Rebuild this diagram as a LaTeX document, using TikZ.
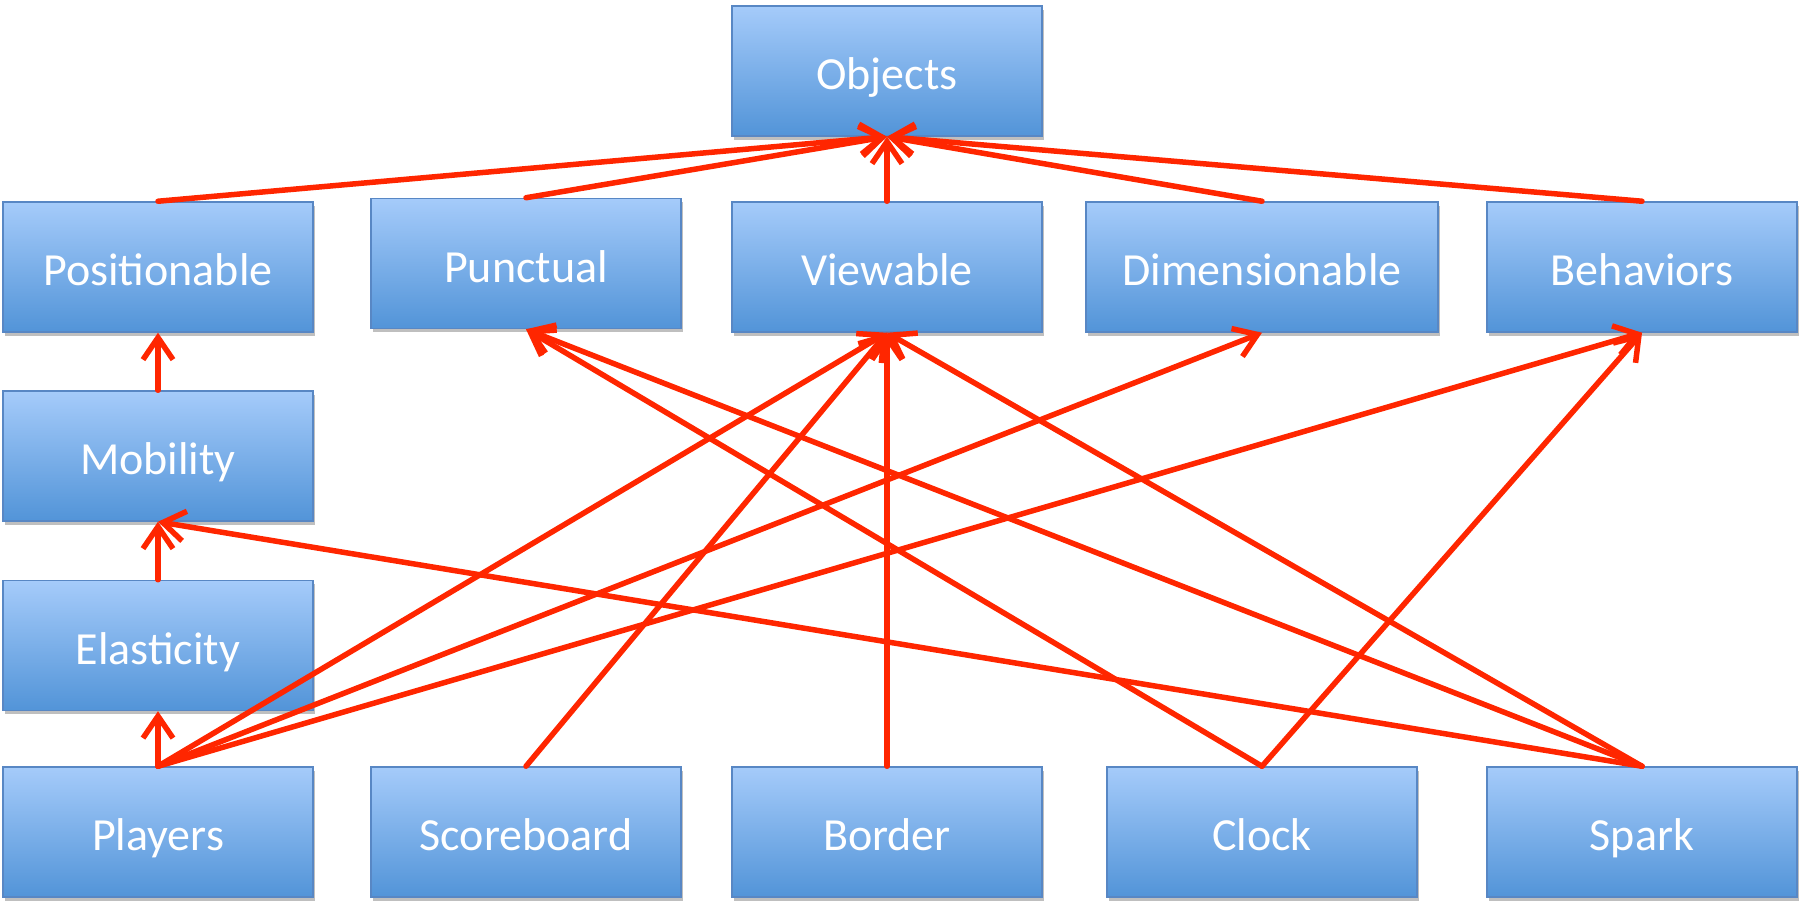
\documentclass[tikz,border=0pt]{standalone}
\usepackage{fontspec}
\setmainfont{Carlito}
\usetikzlibrary{arrows.meta,shadows}
\definecolor{boxtop}{RGB}{165,203,250}
\definecolor{boxbot}{RGB}{82,148,216}
\definecolor{boxline}{RGB}{88,135,196}
\definecolor{arrowred}{RGB}{255,38,0}
\begin{document}
\begin{tikzpicture}[x=1pt,y=1pt,
  cls/.style={rectangle, draw=boxline, line width=1.5pt, top color=boxtop, bottom color=boxbot,
    minimum width=310pt, minimum height=130pt, inner sep=0pt, text=white,
    font=\fontsize{46}{50}\selectfont, text height=38pt, text depth=0pt,
    drop shadow={shadow xshift=2pt,shadow yshift=-4pt,opacity=0.25,fill=black}},
  link/.style={draw=arrowred, line width=5.5pt, line cap=round,
    -{Straight Barb[length=22pt,width=30pt]}}]
\useasboundingbox (0,0) rectangle (1799,901);
% top
\node[cls] (obj) at (887,830) {Objects};
% row 2
\node[cls] (pos) at (158,634) {Positionable};
\node[cls] (pun) at (526,637.5) {Punctual};
\node[cls] (view) at (887,634) {Viewable};
\node[cls, minimum width=352pt] (dim) at (1262,634) {Dimensionable};
\node[cls] (beh) at (1642,634) {Behaviors};
% left column
\node[cls] (mob) at (158,445) {Mobility};
\node[cls] (ela) at (158,255.5) {Elasticity};
% bottom row
\node[cls] (ply) at (158,69) {Players};
\node[cls] (score) at (526,69) {Scoreboard};
\node[cls] (bord) at (887,69) {Border};
\node[cls] (clock) at (1262,69) {Clock};
\node[cls] (spark) at (1642,69) {Spark};
% connectors
\draw[link] (pos.north) -- (obj.south);
\draw[link] (pun.north) -- (obj.south);
\draw[link] (view.north) -- (obj.south);
\draw[link] (dim.north) -- (obj.south);
\draw[link] (beh.north) -- (obj.south);
\draw[link] (mob.north) -- (pos.south);
\draw[link] (ela.north) -- (mob.south);
\draw[link] (ply.north) -- (ela.south);
\draw[link] (ply.north) -- (view.south);
\draw[link] (ply.north) -- (dim.south);
\draw[link] (ply.north) -- (beh.south);
\draw[link] (score.north) -- (view.south);
\draw[link] (bord.north) -- (view.south);
\draw[link] (clock.north) -- (pun.south);
\draw[link] (clock.north) -- (beh.south);
\draw[link] (spark.north) -- (mob.south);
\draw[link] (spark.north) -- (pun.south);
\draw[link] (spark.north) -- (view.south);
\end{tikzpicture}
\end{document}
